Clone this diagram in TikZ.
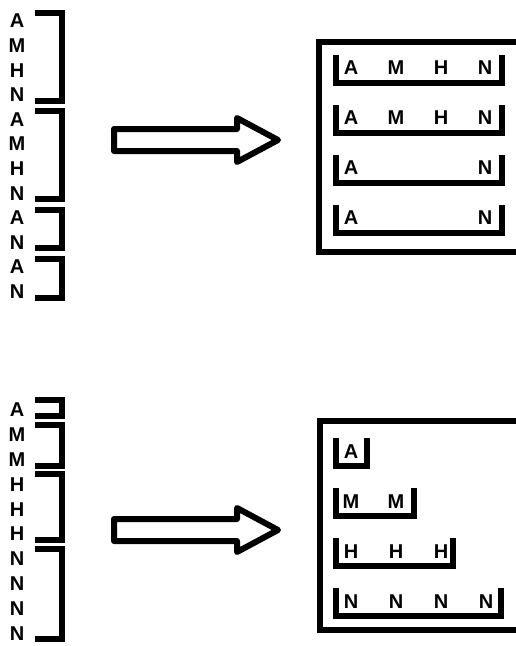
\documentclass[tikz,border=0pt]{standalone}
\usepackage{fontspec}
\setmainfont{Liberation Sans}

\begin{document}
\begin{tikzpicture}[x=1pt,y=-1pt,
    letter/.style={font=\fontsize{20}{20}\selectfont\bfseries,inner sep=0pt},
    thickline/.style={line width=6pt},
    hollow/.style={line width=6pt,line join=round}]
\useasboundingbox (0,0) rectangle (515,646);

	% left columns
	\foreach \l [count=\i from 0] in {A,M,H,N,A,M,H,N,A,N,A,N}
	 \node[letter] (u\i) at (17,{21+24.6*\i}) {\l};
	\foreach \a/\b in {0/3,4/7,8/9,10/11}
	 \draw[thickline] (35,{21+24.6*\a-8}) -- (62,{21+24.6*\a-8}) -- (62,{21+24.6*\b+6}) -- (35,{21+24.6*\b+6});

	\foreach \l [count=\i from 0] in {A,M,M,H,H,H,N,N,N,N}
	 \node[letter] (d\i) at (17,{410+24.8*\i}) {\l};
	\foreach \a/\b in {0/0,1/2,3/5,6/9}
	 \draw[thickline] (35,{410+24.8*\a-10}) -- (62,{410+24.8*\a-10}) -- (62,{410+24.8*\b+6}) -- (35,{410+24.8*\b+6});

	% arrows
	\foreach \y in {140,530}
	 \draw[hollow] (114,{\y-11}) -- (237,{\y-11}) -- (237,{\y-22}) -- (278,\y) -- (237,{\y+22}) -- (237,{\y+11}) -- (114,{\y+11}) -- cycle;

	% upper box
	\draw[thickline] (520,42) -- (319,42) -- (319,252) -- (520,252);
	\foreach \r in {0,1}
	 \foreach \l/\x [count=\c] in {A/351,M/396,H/441,N/485}
	  \node[letter] (a\r\c) at (\x,{68+50*\r}) {\l};
	\foreach \r in {2,3} {
	 \node[letter] (a\r1) at (351,{68+50*\r}) {A};
	 \node[letter] (a\r4) at (485,{68+50*\r}) {N};
	}
	\foreach \r in {0,...,3}
	 \draw[thickline] (336,{68+50*\r-13}) -- (336,{68+50*\r+15}) -- (502,{68+50*\r+15}) -- (502,{68+50*\r-13});

	% lower box
	\draw[thickline] (520,421) -- (319.5,421) -- (319.5,630) -- (520,630);
	\foreach \r/\rx/\ls in {0/367/{A},1/414/{M,M},2/453/{H,H,H},3/501/{N,N,N,N}} {
	 \foreach \l [count=\c] in \ls
	  \node[letter] (b\r\c) at ({351+45*(\c-1)},{452+50*\r}) {\l};
	 \draw[thickline] (336,{452+50*\r-14}) -- (336,{452+50*\r+14}) -- (\rx,{452+50*\r+14}) -- (\rx,{452+50*\r-14});
	}

\end{tikzpicture}
\end{document}
